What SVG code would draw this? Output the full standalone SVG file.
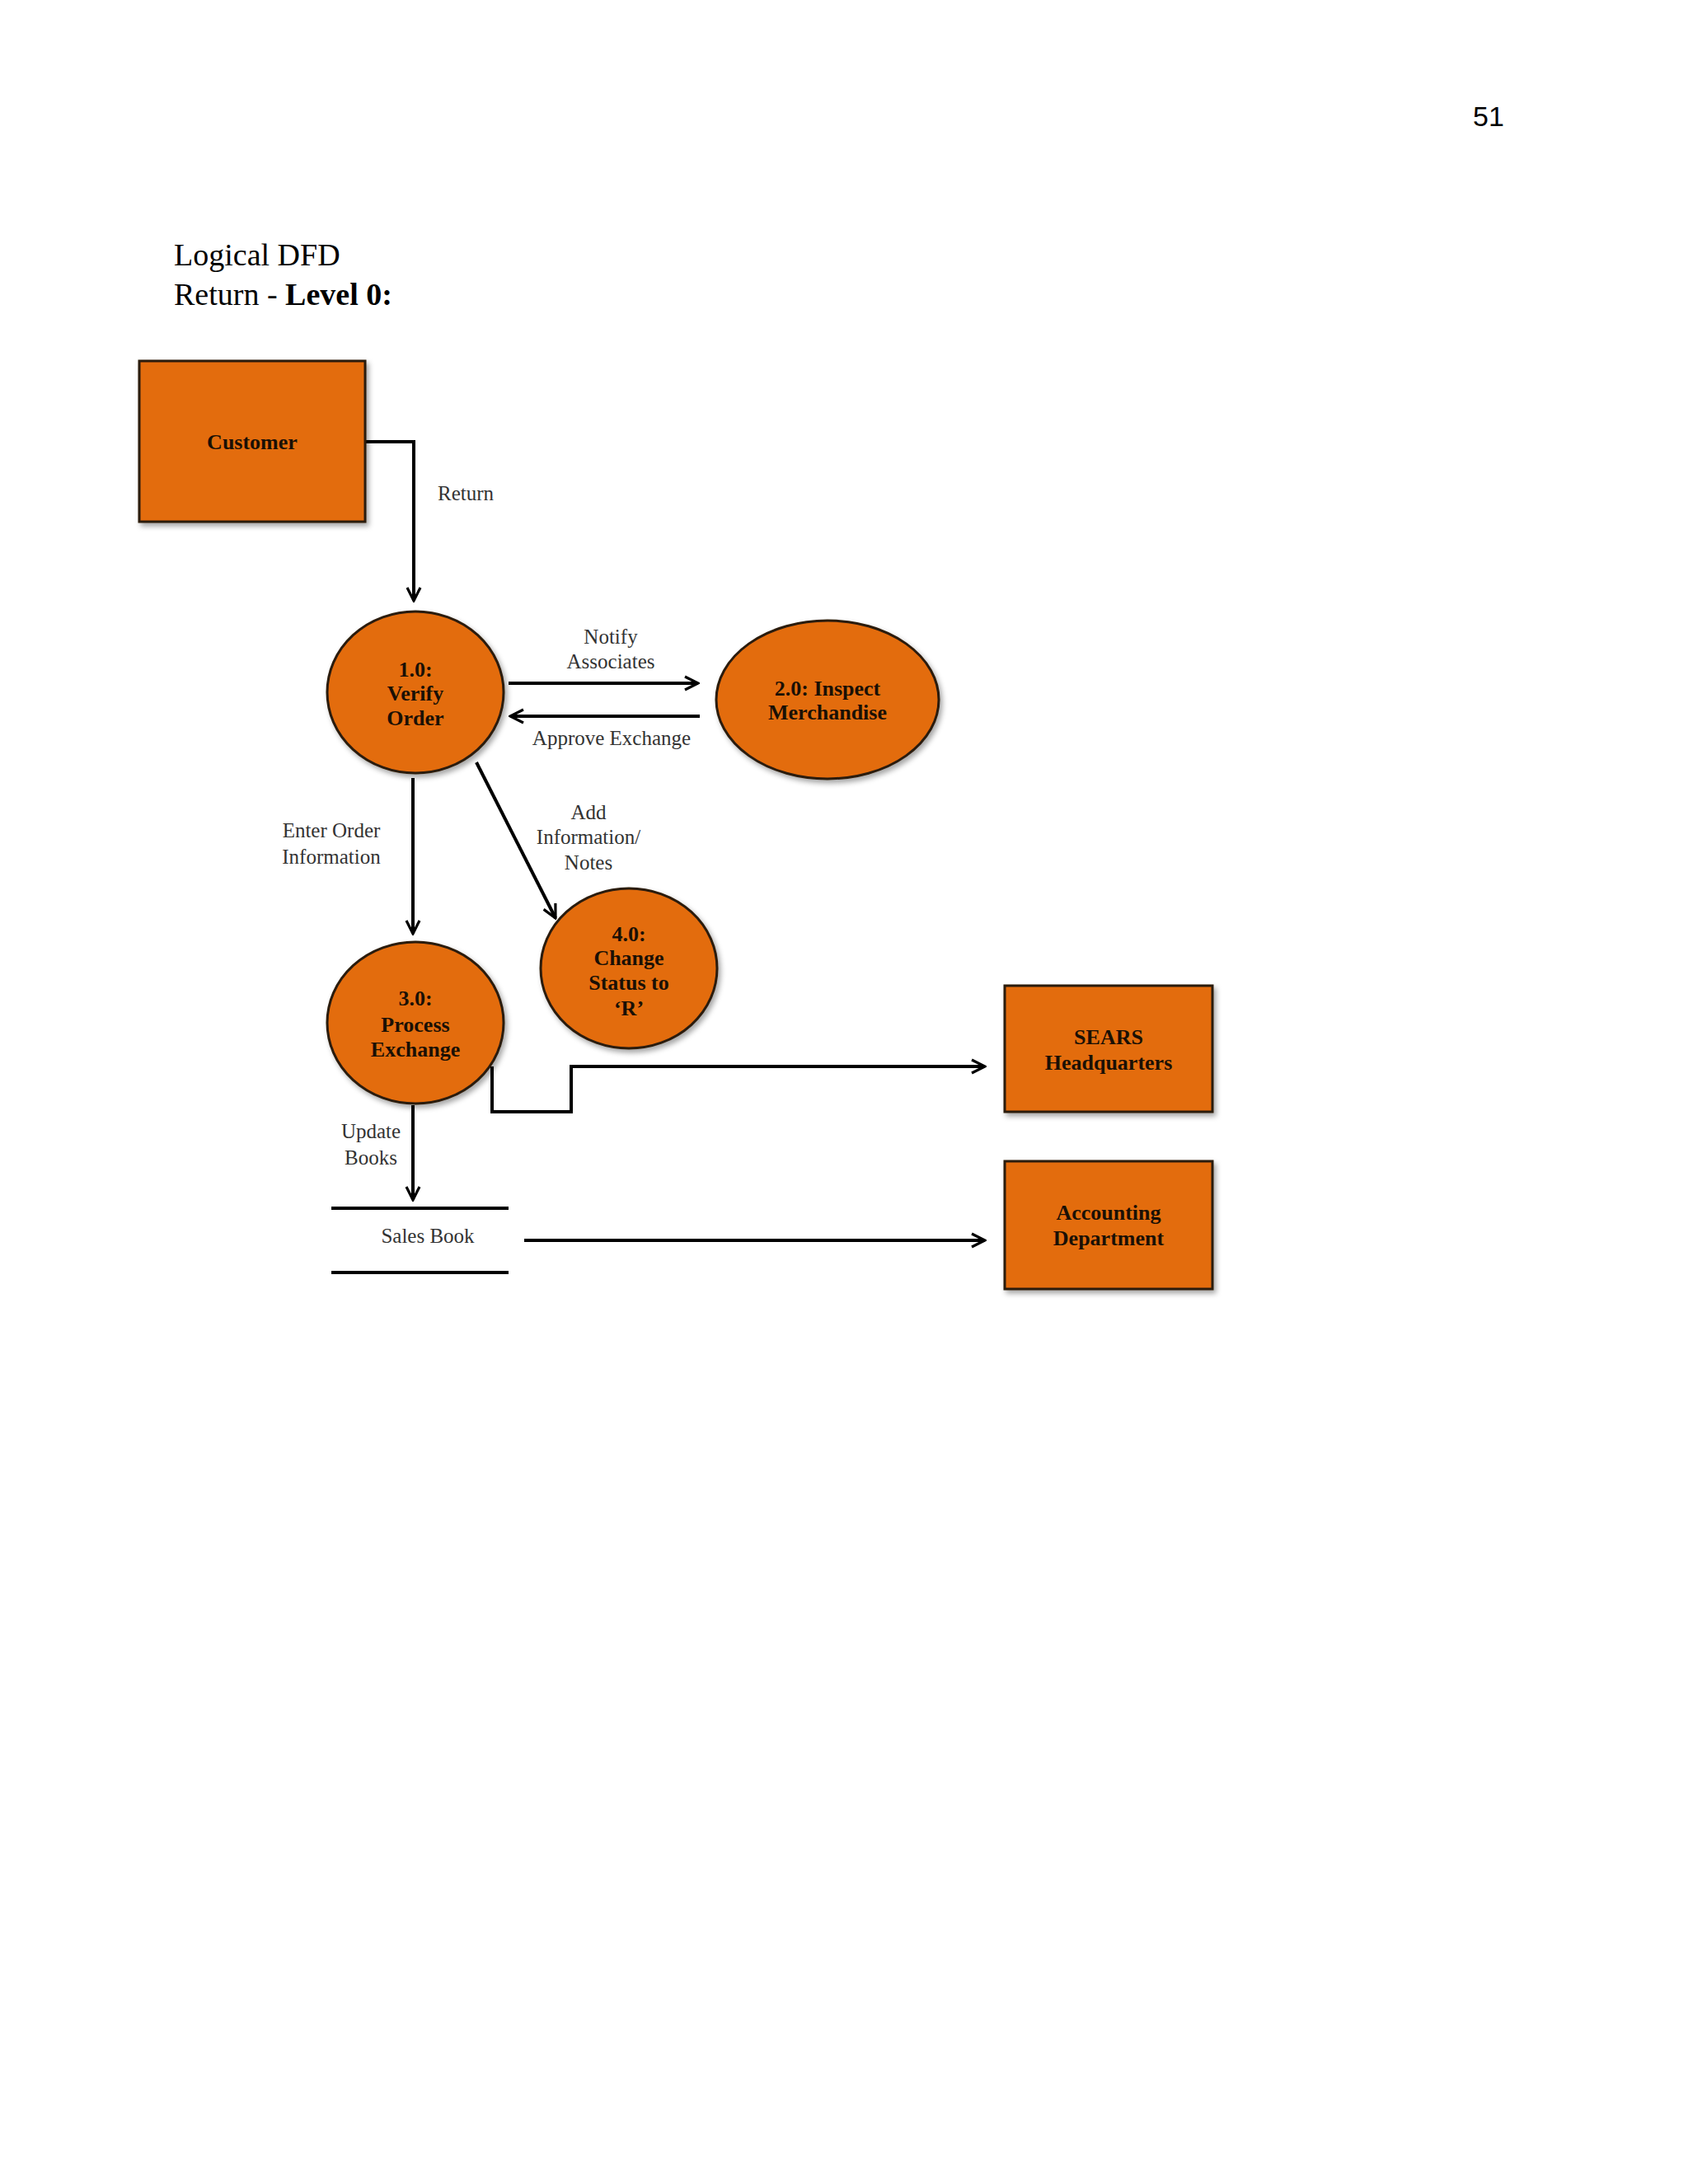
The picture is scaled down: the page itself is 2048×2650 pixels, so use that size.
<svg xmlns="http://www.w3.org/2000/svg" width="2048" height="2650" viewBox="0 0 2048 2650">
<style>
.node{fill:#E36C0A;stroke:#2a1a0a;stroke-width:3;filter:url(#sh)}
.nt{font-family:"Liberation Serif","DejaVu Serif",serif;font-weight:bold;font-size:26px;fill:#1a1005;text-anchor:middle}
.lb{font-family:"Liberation Serif","DejaVu Serif",serif;font-size:25px;fill:#333;text-anchor:middle}
.c{fill:none;stroke:#000;stroke-width:4}
.hd{font-family:"Liberation Serif",serif;font-size:38px;fill:#000}
</style>
<defs>
<filter id="sh" x="-10%" y="-10%" width="130%" height="130%"><feDropShadow dx="3" dy="4" stdDeviation="3" flood-color="#000" flood-opacity="0.35"/></filter>
<marker id="a" viewBox="0 0 10 10" refX="9" refY="5" markerWidth="5" markerHeight="5" orient="auto" markerUnits="strokeWidth"><path d="M1,1 L9,5 L1,9" fill="none" stroke="#000" stroke-width="1.6"/></marker>
</defs>
<rect width="2048" height="2650" fill="#fff"/>
<text x="1787" y="153" font-family="Liberation Sans,Arial,sans-serif" font-size="34">51</text>
<text class="hd" x="211" y="322">Logical DFD</text>
<text class="hd" x="211" y="370">Return - <tspan font-weight="bold">Level 0:</tspan></text>

<g id="connectors">
<path class="c" d="M443,536 H502 V729" marker-end="url(#a)"/>
<path class="c" d="M617,829 H847" marker-end="url(#a)"/>
<path class="c" d="M849,869 H619" marker-end="url(#a)"/>
<path class="c" d="M501,944 V1133" marker-end="url(#a)"/>
<path class="c" d="M578,925 L674,1114" marker-end="url(#a)"/>
<path class="c" d="M597,1294 V1349 H693 V1294 H1195" marker-end="url(#a)"/>
<path class="c" d="M501,1341 V1456" marker-end="url(#a)"/>
<path class="c" d="M636,1505 H1195" marker-end="url(#a)"/>
<text class="lb" x="565" y="607">Return</text>
<text class="lb" x="741" y="781">Notify</text>
<text class="lb" x="741" y="811">Associates</text>
<text class="lb" x="742" y="904">Approve Exchange</text>
<text class="lb" x="402" y="1016">Enter Order</text>
<text class="lb" x="402" y="1048">Information</text>
<text class="lb" x="714" y="994">Add</text>
<text class="lb" x="714" y="1024">Information/</text>
<text class="lb" x="714" y="1055">Notes</text>
<text class="lb" x="450" y="1381">Update</text>
<text class="lb" x="450" y="1413">Books</text>
</g>

<g id="customer"><rect class="node" x="169" y="438" width="274" height="195"/><text class="nt" x="306" y="545">Customer</text></g>
<g id="p1"><ellipse class="node" cx="504" cy="840" rx="107" ry="98"/><text class="nt" x="504" y="821">1.0:</text><text class="nt" x="504" y="850">Verify</text><text class="nt" x="504" y="880">Order</text></g>
<g id="p2"><ellipse class="node" cx="1004" cy="849" rx="135" ry="96"/><text class="nt" x="1004" y="844">2.0: Inspect</text><text class="nt" x="1004" y="873">Merchandise</text></g>
<g id="p4"><ellipse class="node" cx="763" cy="1175" rx="107" ry="97"/><text class="nt" x="763" y="1142">4.0:</text><text class="nt" x="763" y="1171">Change</text><text class="nt" x="763" y="1201">Status to</text><text class="nt" x="763" y="1232">‘R’</text></g>
<g id="p3"><ellipse class="node" cx="504" cy="1241" rx="107" ry="98"/><text class="nt" x="504" y="1220">3.0:</text><text class="nt" x="504" y="1252">Process</text><text class="nt" x="504" y="1282">Exchange</text></g>
<g id="sears"><rect class="node" x="1219" y="1196" width="252" height="153"/><text class="nt" x="1345" y="1267">SEARS</text><text class="nt" x="1345" y="1298">Headquarters</text></g>
<g id="acct"><rect class="node" x="1219" y="1409" width="252" height="155"/><text class="nt" x="1345" y="1480">Accounting</text><text class="nt" x="1345" y="1511">Department</text></g>
<g id="salesbook"><path d="M402,1466 H617 M402,1544 H617" stroke="#000" stroke-width="4"/><text class="lb" x="519" y="1508">Sales Book</text></g>
</svg>
